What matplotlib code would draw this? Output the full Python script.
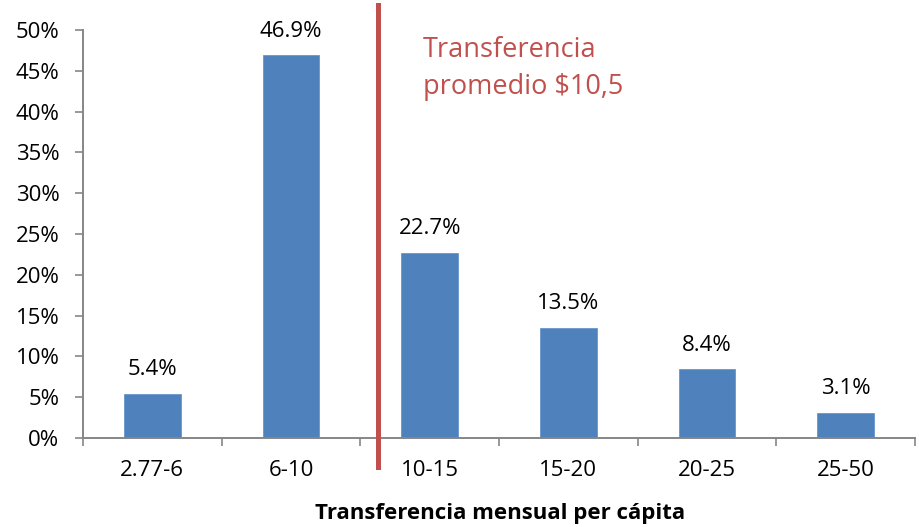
import matplotlib.pyplot as plt
from matplotlib.ticker import FuncFormatter

plt.rcParams['font.family'] = ['Open Sans', 'DejaVu Sans']

categories = ["2.77-6", "6-10", "10-15", "15-20", "20-25", "25-50"]
shares = [5.4, 46.9, 22.7, 13.5, 8.4, 3.1]
avg_pos = 1.63  # position of the $10,5 average between categories
avg_label = "Transferencia\npromedio $10,5"

blue = "#4F81BD"
red = "#C0504D"
grey = "#868686"

fig = plt.figure(figsize=(9.19, 5.27), dpi=100)
ax = fig.add_axes([83 / 919, 89 / 527, 832 / 919, 408 / 527])

xs = range(len(categories))
ax.bar(xs, shares, width=0.41, color=blue, edgecolor="#6A96CC", linewidth=0.6)
for x, v in zip(xs, shares):
    ax.text(x, v + 1.65, f"{v:.1f}%", ha="center", va="bottom", fontsize=16)

ax.set_xlim(-0.5, len(categories) - 0.5)
ax.set_ylim(0, 50)
ax.set_yticks(range(0, 51, 5))
ax.yaxis.set_major_formatter(FuncFormatter(lambda v, p: f"{v:.0f}%"))
ax.set_xticks(list(xs))
ax.set_xticklabels(categories)
ax.set_xticks([i + 0.5 for i in range(-1, len(categories))], minor=True)

ax.tick_params(axis="y", labelsize=16, length=6, width=1.2, color=grey, pad=11)
ax.tick_params(axis="x", which="major", labelsize=16, length=0, pad=16)
ax.tick_params(axis="x", which="minor", length=6, width=1.2, color=grey)

for s in ["top", "right"]:
    ax.spines[s].set_visible(False)
for s in ["left", "bottom"]:
    ax.spines[s].set_color(grey)
    ax.spines[s].set_linewidth(1.4)

ax.plot([avg_pos, avg_pos], [-3.55, 53.1], color=red, linewidth=3.6, clip_on=False, zorder=5)
ax.text(1.95, 49.3, avg_label, color=red, fontsize=19.5, va="top", ha="left", linespacing=1.45)

fig.text(500 / 919, 14 / 527, "Transferencia mensual per cápita", fontsize=16,
         fontweight="bold", ha="center", va="center")

fig.savefig("out.png", dpi=100)
